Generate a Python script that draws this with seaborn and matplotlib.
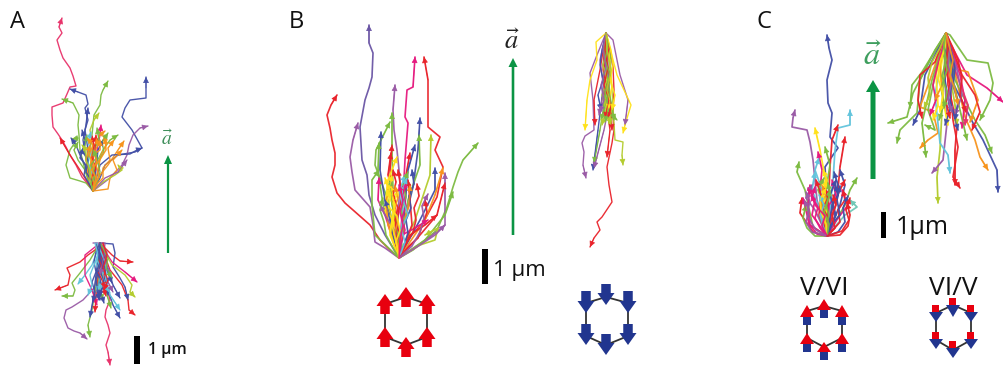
import matplotlib
matplotlib.use("Agg")
import matplotlib.pyplot as plt
import pandas as pd
import seaborn as sns
from matplotlib.patches import FancyArrow, Rectangle, Polygon

sns.set_theme(style="white")
plt.rcParams["font.family"] = ["Open Sans", "DejaVu Sans"]
plt.rcParams["mathtext.fontset"] = "stix"

PALETTE = {"r": "#E9232B", "b": "#424FA6", "g": "#7DBB42", "p": "#9A5BA6", "o": "#F7941D",
           "y": "#FFE21A", "k": "#E6197F", "c": "#62C4DC", "l": "#B4CC2E", "v": "#6A55A5", "m": "#E8336B",
           "t": "#6FC7B5"}

A_TOP_COLORS = "mbggbpgrbglbkoooglbrpogobo" + "cgbgrobolgoo"
A_TOP = [
 [(93,191),(87,183),(82,177),(76,165),(70,155),(66,147),(62,140),(58,134),(53,127),(52,115),(52,107),(63,103),(67,94),(70,87),(76,86),(73,76),(70,68),(63,58),(60,50),(57,40),(62,33),(59,27),(62,18)],
 [(93,191),(90,170),(87,160),(88,150),(85,130),(88,120),(85,108),(88,104),(86,95),(78,92),(70,89)],
 [(93,191),(88,180),(85,170),(80,150),(79,135),(78,125),(79,115),(73,103),(62,99)],
 [(93,191),(90,175),(88,160),(92,135),(94,115),(100,105),(101,95),(103,90),(108,81)],
 [(93,191),(100,178),(105,165),(118,155),(135,152),(142,148),(137,139),(132,130),(122,117),(125,108),(130,100),(146,98),(146,88),(146,77)],
 [(93,191),(110,178),(122,165),(127,155),(129,145),(133,135),(140,128),(148,126)],
 [(93,191),(86,183),(80,181),(70,178),(66,165),(70,150),(78,138),(72,139)],
 [(93,191),(85,178),(80,170),(70,155),(60,138)],
 [(93,191),(85,165),(80,155),(76,145),(71,138)],
 [(93,191),(85,170),(78,160),(74,150),(78,142)],
 [(93,191),(90,170),(93,150),(90,130),(94,120),(99,113)],
 [(93,191),(87,165),(83,140),(86,125),(88,108)],
 [(93,191),(95,170),(97,150),(100,135),(101,125)],
 [(93,191),(90,170),(92,150),(100,135),(105,131)],
 [(93,191),(100,175),(108,165),(118,150),(124,141)],
 [(93,191),(108,189),(110,178),(117,170),(113,160),(122,150)],
 [(93,191),(95,165),(103,150),(110,140),(118,135)],
 [(93,191),(103,182),(115,175),(122,170),(118,165)],
 [(93,191),(100,165),(112,155),(130,154),(137,150),(142,148)],
 [(93,191),(92,165),(95,150),(96,135)],
 [(93,191),(105,178),(118,172),(127,160)],
 [(93,191),(88,175),(86,160),(90,145)],
 [(93,191),(89,170),(84,150),(87,135)],
 [(93,191),(98,170),(101,155),(106,145),(104,135)],
 [(93,191),(96,170),(98,150),(103,140)],
 [(93,191),(91,170),(93,155),(100,150),(100,140)],
 [(93,191),(90,182),(92,172),(88,163),(91,152),(88,142),(91,132)],
 [(93,191),(95,180),(93,170),(97,160),(95,148),(99,140),(97,128)],
 [(93,191),(91,180),(86,172),(88,160),(83,152),(85,140),(82,130)],
 [(93,191),(97,182),(100,172),(98,162),(104,152),(102,142),(108,133)],
 [(93,191),(92,178),(96,168),(92,158),(94,146),(92,136)],
 [(93,191),(94,182),(90,172),(94,165),(89,155),(93,145),(87,138)],
 [(93,191),(88,182),(84,175),(86,165),(80,158),(83,148)],
 [(93,191),(98,183),(103,178),(103,168),(110,160),(108,148),(114,140)],
 [(93,191),(90,180),(90,170),(86,160),(86,150),(82,145)],
 [(93,191),(91,183),(95,175),(91,165),(96,158),(93,150)],
 [(93,191),(95,184),(99,176),(96,165),(101,158),(106,150),(105,138)],
 [(93,191),(96,178),(92,170),(97,162),(94,152),(98,145),(96,138)],
]

A_BOT_COLORS = "mpgrgckrbrklbcbgrbgbcbpcrb" + "brbcbpcgbr"
A_BOT = [
 [(103,243),(106,260),(105,275),(106,285),(110,300),(106,310),(105,317),(108,325),(110,333),(106,345),(108,352),(110,365)],
 [(100,243),(95,287),(83,300),(72,307),(66,310),(64,318),(68,328),(74,331),(80,333),(87,339)],
 [(100,243),(97,280),(92,310),(88,325),(90,337)],
 [(100,243),(95,250),(88,255),(80,262),(67,268),(70,275),(68,285),(55,290)],
 [(100,243),(90,260),(80,273),(72,283),(75,290),(73,296),(62,296)],
 [(100,243),(92,265),(85,275),(78,284)],
 [(100,243),(85,255),(85,275),(92,290),(97,305)],
 [(100,243),(112,255),(120,261),(133,262)],
 [(100,243),(113,244),(115,253),(113,267),(120,278),(125,287),(128,300)],
 [(100,243),(110,270),(122,285),(128,300),(129,310),(135,315)],
 [(100,243),(112,262),(125,272),(137,282)],
 [(100,243),(112,265),(125,275),(132,285),(130,292),(135,297)],
 [(100,243),(105,270),(108,290),(113,305),(120,318)],
 [(100,243),(103,270),(110,295),(120,310)],
 [(100,243),(108,270),(113,285),(120,298)],
 [(100,243),(102,275),(107,295),(111,308)],
 [(100,243),(99,270),(96,295),(95,312)],
 [(100,243),(96,275),(93,300),(90,317)],
 [(100,243),(102,260),(98,285),(103,300)],
 [(96,243),(100,260),(105,280),(108,295)],
 [(100,243),(97,260),(104,275),(100,290)],
 [(100,243),(105,255),(107,270),(112,283)],
 [(93,243),(105,243),(104,255),(100,275)],
 [(100,243),(96,262),(100,278),(97,292)],
 [(100,243),(104,258),(98,272),(106,288)],
 [(100,243),(101,262),(96,280),(99,300)],
 [(100,243),(98,252),(101,260),(97,270),(100,280),(97,290),(100,300)],
 [(100,243),(103,252),(100,262),(105,272),(102,284),(106,296)],
 [(100,243),(101,253),(104,263),(101,273),(104,283),(101,293),(104,303)],
 [(97,243),(101,252),(105,262),(107,272),(105,283),(110,293)],
 [(100,243),(96,252),(94,262),(96,272),(92,282),(95,292),(93,302)],
 [(100,243),(107,252),(105,262),(110,272),(108,282),(113,292)],
 [(95,243),(98,255),(94,265),(90,275),(92,285),(88,295)],
 [(100,243),(104,250),(108,258),(106,268),(112,278)],
 [(100,243),(99,256),(103,266),(99,276),(102,288),(98,296)],
 [(103,243),(107,255),(103,268),(108,280),(104,290)],
]

B_LEFT_COLORS = "rvppkrgbglggbgrryrbbopr" + "gkgloyprcyrkpgrbyo" + "rgybokrycrgpyk"
B_LEFT = [
 [(399,258),(390,250),(380,240),(370,225),(353,210),(345,203),(337,193),(332,177),(335,165),(335,153),(332,140),(330,128),(327,115),(331,105),(337,95)],
 [(399,258),(385,235),(375,215),(369,195),(367,175),(362,160),(360,127),(365,100),(369,88),(372,77),(373,53),(369,43),(369,25)],
 [(399,258),(385,248),(375,242),(373,225),(370,207),(355,190),(352,172),(350,157),(353,140),(358,123)],
 [(399,258),(398,220),(400,180),(397,150),(394,130),(393,110),(395,85)],
 [(399,258),(402,215),(405,160),(408,123),(405,117),(407,90),(413,87),(415,57)],
 [(399,258),(407,240),(423,223),(437,197),(443,167),(435,150),(440,137),(428,127),(428,100),(428,80),(424,57)],
 [(399,258),(413,250),(437,230),(447,207),(453,187),(458,172),(463,160),(478,143)],
 [(399,258),(405,220),(413,187),(418,150),(420,118)],
 [(399,258),(408,200),(420,165),(419,135)],
 [(399,258),(415,220),(430,175),(431,135)],
 [(399,258),(393,190),(392,150),(392,113)],
 [(399,258),(388,200),(375,165),(376,150),(390,122)],
 [(399,258),(385,200),(380,170),(381,132)],
 [(399,258),(383,205),(378,170),(379,143)],
 [(399,258),(392,200),(390,170),(392,145)],
 [(399,258),(395,200),(388,175),(391,153)],
 [(399,258),(385,210),(388,180),(397,157)],
 [(399,258),(405,205),(406,175),(410,153)],
 [(399,258),(405,205),(408,170),(415,145)],
 [(399,258),(420,220),(435,190),(435,168)],
 [(399,258),(425,220),(435,195),(443,168)],
 [(399,258),(430,237),(445,225),(445,205),(445,173)],
 [(399,258),(420,235),(437,215),(445,183)],
 [(399,258),(425,240),(445,215),(453,192)],
 [(399,258),(385,215),(378,200),(379,178)],
 [(399,258),(375,235),(372,205),(372,180),(379,170)],
 [(399,258),(420,245),(435,240),(438,228),(425,235)],
 [(399,258),(388,225),(386,200),(392,185)],
 [(399,258),(393,230),(394,200),(390,185)],
 [(399,258),(420,245),(435,235),(445,225)],
 [(399,258),(396,225),(402,195),(398,170)],
 [(399,258),(403,210),(400,190),(405,175)],
 [(399,258),(393,235),(395,210),(387,190)],
 [(399,258),(412,225),(410,200),(408,180)],
 [(399,258),(402,235),(415,228),(428,220)],
 [(399,258),(394,230),(385,215),(380,205)],
 [(399,258),(397,225),(392,205),(390,180)],
 [(399,258),(410,235),(425,225),(437,215)],
 [(399,258),(393,235),(390,215),(385,200)],
 [(399,258),(390,235),(395,200),(398,190)],
 [(399,258),(403,225),(409,205),(410,185)],
 [(399,258),(396,245),(399,232),(395,220),(398,208),(393,195),(396,182),(393,170)],
 [(399,258),(402,245),(399,235),(404,222),(401,210),(406,197),(403,185),(408,172)],
 [(399,258),(394,245),(390,232),(392,220),(388,208),(391,195),(387,183)],
 [(399,258),(404,245),(408,233),(406,220),(411,208),(409,196),(414,184),(412,170)],
 [(399,258),(398,244),(394,234),(398,222),(394,210),(398,198),(395,186)],
 [(399,258),(401,244),(405,230),(402,218),(406,206),(403,194),(406,182)],
 [(399,258),(406,244),(413,232),(416,220),(414,208),(419,196),(417,184)],
 [(399,258),(396,242),(400,230),(397,216),(387,205),(389,190),(385,178)],
 [(399,258),(405,242),(401,228),(408,215),(404,203),(402,190),(407,178)],
 [(399,258),(409,246),(418,238),(422,226),(427,212),(425,200)],
 [(399,258),(392,246),(386,235),(384,222),(380,210),(383,198)],
 [(399,258),(412,246),(420,232),(424,218),(422,206),(428,194)],
 [(399,258),(397,246),(392,225),(395,205),(389,190),(392,175)],
 [(399,258),(400,240),(403,225),(400,212),(403,200),(399,185)],
]

B_RIGHT_COLORS = "rpybglpypgrrgrlpyg" + "grlbyrgpl"
B_RIGHT = [
 [(606,33),(610,50),(613,67),(614,90),(613,117),(614,130),(612,143),(607,167),(609,185),(612,202),(602,217),(597,222),(600,230),(594,238),(590,247)],
 [(606,33),(597,55),(590,73),(593,100),(594,130),(585,136),(582,143),(584,152),(583,165),(586,178)],
 [(606,33),(596,42),(597,60),(590,80),(587,100),(585,130)],
 [(606,33),(604,80),(598,130),(593,170)],
 [(606,33),(608,80),(600,130),(594,163)],
 [(606,33),(612,90),(615,140),(623,142),(622,155),(623,165)],
 [(606,33),(613,40),(617,60),(620,75),(628,100),(625,125)],
 [(606,33),(617,75),(631,105),(625,125),(623,133)],
 [(606,33),(610,100),(604,130),(594,168)],
 [(606,33),(611,60),(607,110),(617,120)],
 [(606,33),(600,70),(594,100),(595,125)],
 [(606,33),(604,90),(610,130),(607,157)],
 [(606,33),(603,65),(608,95),(601,120)],
 [(606,33),(603,70),(610,100),(612,130)],
 [(606,33),(611,70),(605,100),(611,125)],
 [(606,33),(600,60),(604,90),(599,115)],
 [(606,33),(609,55),(612,85),(608,110)],
 [(606,33),(605,60),(609,90),(614,120)],
 [(606,33),(604,48),(607,62),(603,76),(606,90),(603,104),(606,118)],
 [(606,33),(609,48),(606,62),(610,76),(607,90),(611,104),(608,118)],
 [(606,33),(607,50),(603,65),(607,80),(602,95),(606,110),(602,125)],
 [(606,33),(602,50),(600,65),(603,80),(598,95),(601,110)],
 [(606,33),(611,50),(613,65),(610,80),(615,95),(612,110)],
 [(606,33),(605,50),(608,68),(604,85),(609,100),(605,118)],
 [(606,33),(608,45),(605,60),(610,75),(605,92),(609,108),(605,122)],
 [(606,33),(603,48),(606,68),(601,85),(604,100),(600,112)],
 [(606,33),(607,50),(611,70),(607,90),(612,108),(609,124)],
]

C_LEFT_COLORS = "bpcrryggkcgtrkbckyrbgpkrboky" + "rbkgrpbcrygk" + "grkbpr"
C_LEFT = [
 [(827,236),(827,200),(825,167),(833,155),(838,148),(830,137),(832,113),(828,103),(827,80),(832,60),(829,48),(827,35)],
 [(827,236),(817,200),(813,160),(810,142),(807,130),(792,127),(793,118),(795,110)],
 [(827,236),(833,180),(835,150),(838,128),(850,125),(850,110)],
 [(827,236),(830,167),(832,140),(838,125)],
 [(827,236),(837,200),(840,167),(845,137)],
 [(827,236),(825,177),(820,150),(815,128)],
 [(827,236),(813,227),(805,190),(797,172),(799,162)],
 [(827,236),(826,190),(830,165),(825,147)],
 [(827,236),(820,190),(822,170),(818,152)],
 [(827,236),(822,190),(815,170),(819,158)],
 [(827,236),(845,205),(850,190),(857,178)],
 [(827,236),(845,215),(857,207),(850,200)],
 [(827,236),(813,232),(800,213),(802,198)],
 [(827,236),(810,225),(808,205),(810,185)],
 [(827,236),(840,205),(845,185),(840,170)],
 [(827,236),(818,205),(812,190),(815,172)],
 [(827,236),(838,218),(848,205),(842,190)],
 [(827,236),(824,205),(827,180),(823,170)],
 [(827,236),(833,205),(840,190),(845,180)],
 [(827,236),(833,200),(838,185),(834,172)],
 [(827,236),(822,200),(818,190),(824,178)],
 [(827,236),(815,210),(806,198),(812,185)],
 [(827,236),(829,205),(836,195),(832,180)],
 [(827,236),(819,215),(821,195),(816,180)],
 [(827,236),(836,215),(830,195),(836,180)],
 [(827,236),(821,205),(826,195),(822,185)],
 [(827,236),(812,215),(815,200),(808,188)],
 [(827,236),(826,210),(823,195),(826,180)],
 [(827,236),(824,228),(828,218),(823,208),(828,198),(824,188)],
 [(827,236),(831,226),(835,216),(832,205),(838,195),(835,185)],
 [(827,236),(820,228),(815,218),(818,207),(812,197),(815,187)],
 [(827,236),(826,226),(829,215),(826,205),(830,195),(828,183)],
 [(827,236),(833,230),(840,222),(838,210),(845,200),(843,190)],
 [(827,236),(816,230),(811,222),(807,212),(810,202),(806,192)],
 [(827,236),(830,226),(840,215),(837,200),(840,186)],
 [(827,236),(823,226),(820,215),(824,205),(819,195)],
 [(827,236),(835,228),(832,215),(836,205),(833,195)],
 [(827,236),(826,224),(821,212),(820,200),(826,188)],
 [(827,236),(829,224),(824,212),(828,200),(830,190)],
 [(827,236),(822,226),(825,216),(816,206),(811,195)],
 [(827,236),(815,236),(807,228),(803,218),(806,205)],
 [(827,236),(840,235),(848,226),(850,215),(847,203)],
 [(827,236),(817,234),(809,224),(806,210),(803,198)],
 [(827,236),(838,232),(845,222),(843,208),(848,196)],
 [(827,236),(812,232),(806,222),(809,210),(804,200)],
 [(827,236),(842,231),(849,220),(846,210),(850,198)],
]

C_RIGHT_COLORS = "ggbgogglpcrrobgkgorykbyrlmgbpo" + "krgbyrlpgo"
C_RIGHT = [
 [(946,33),(935,50),(925,70),(913,93),(907,117),(888,123)],
 [(946,33),(930,60),(920,80),(917,113),(900,130),(897,143)],
 [(946,33),(925,75),(920,110),(913,125)],
 [(946,33),(922,72),(912,85),(910,108)],
 [(946,33),(930,80),(920,107),(933,112),(938,133),(928,140),(920,148)],
 [(946,33),(932,80),(922,123),(926,157)],
 [(946,33),(935,75),(928,110),(935,130),(925,125)],
 [(946,33),(943,90),(940,150),(937,177),(938,203)],
 [(946,33),(945,80),(947,123),(943,160),(932,173)],
 [(946,33),(935,95),(940,143),(948,155),(950,173)],
 [(946,33),(950,85),(953,120),(958,147),(953,177),(960,188)],
 [(946,33),(948,85),(957,125),(955,150),(955,185)],
 [(946,33),(965,117),(975,140),(980,157),(988,170)],
 [(946,33),(953,83),(973,123),(983,140),(997,170),(998,192)],
 [(946,33),(955,80),(975,120),(985,135),(992,153)],
 [(946,33),(950,43),(967,75),(987,88),(1003,102)],
 [(946,33),(950,35),(967,60),(988,63),(993,83),(990,100),(980,120)],
 [(946,33),(960,70),(968,72),(978,100),(970,122)],
 [(946,33),(962,75),(975,95),(980,112),(972,130)],
 [(946,33),(940,75),(945,110),(948,125)],
 [(946,33),(960,75),(965,100),(962,128)],
 [(946,33),(945,80),(950,110),(945,125)],
 [(946,33),(936,75),(938,105),(933,120)],
 [(946,33),(935,62),(920,75),(918,100),(922,118)],
 [(946,33),(950,75),(955,105),(957,125)],
 [(946,33),(955,70),(968,105),(965,125)],
 [(946,33),(952,75),(960,110),(967,140)],
 [(946,33),(953,70),(950,100),(958,130)],
 [(946,33),(957,70),(962,95),(955,115)],
 [(946,33),(940,65),(942,85),(935,100)],
 [(946,33),(942,50),(937,68),(933,85),(936,100),(930,115)],
 [(946,33),(948,50),(945,68),(950,85),(946,102),(950,118)],
 [(946,33),(943,52),(947,70),(941,88),(944,104),(939,120)],
 [(946,33),(951,50),(955,68),(953,85),(958,102),(955,120)],
 [(946,33),(945,48),(940,62),(938,78),(943,95),(940,112)],
 [(946,33),(953,48),(958,60),(962,78),(960,95),(966,112)],
 [(946,33),(940,48),(932,62),(928,78),(930,95),(924,108)],
 [(946,33),(950,48),(948,65),(952,80),(948,98),(952,112)],
 [(946,33),(944,46),(946,60),(942,76),(947,92),(944,108)],
 [(946,33),(949,45),(953,60),(950,75),(955,90),(958,105)],
]

CLUSTERS = [(A_TOP, A_TOP_COLORS, 1.0), (A_BOT, A_BOT_COLORS, 1.0), (B_LEFT, B_LEFT_COLORS, 1.2),
            (B_RIGHT, B_RIGHT_COLORS, 1.0), (C_LEFT, C_LEFT_COLORS, 1.25), (C_RIGHT, C_RIGHT_COLORS, 1.25)]

fig = plt.figure(figsize=(10.04, 3.67), dpi=100, facecolor="white")
ax = fig.add_axes([0, 0, 1, 1])

for tracks, colors, width in CLUSTERS:
    rows = [(f"t{i}", x, y) for i, tr in enumerate(tracks) for x, y in tr]
    df = pd.DataFrame(rows, columns=["track", "x", "y"])
    pal = {f"t{i}": PALETTE[colors[i % len(colors)]] for i in range(len(tracks))}
    sns.lineplot(data=df, x="x", y="y", hue="track", units="track", estimator=None, sort=False,
                 palette=pal, legend=False, linewidth=width, ax=ax, alpha=0.95)
    for i, tr in enumerate(tracks):
        ax.annotate("", xy=tr[-1], xytext=tr[-2],
                    arrowprops=dict(arrowstyle="-|>,head_length=0.5,head_width=0.25", mutation_scale=7,
                                    color=pal[f"t{i}"], lw=0.5, shrinkA=0, shrinkB=0))

ax.set_xlim(0, 1004)
ax.set_ylim(367, 0)
ax.axis("off")

GREEN = "#0B9444"
def big_arrow(x, y0, y1, w, hw, hl, c):
    ax.add_patch(FancyArrow(x, y0, 0, y1 - y0, width=w, head_width=hw, head_length=hl,
                            length_includes_head=True, color=c, lw=0))

big_arrow(168, 253, 155, 2.2, 8, 9, GREEN)
big_arrow(513, 235, 58, 2.6, 9, 9, GREEN)
big_arrow(873, 179, 80, 5, 14, 12, GREEN)

for x, y0, y1, w in [(137, 336, 364, 5.5), (485, 249, 284, 6), (884, 212, 238, 5)]:
    ax.add_patch(Rectangle((x - w / 2, y0), w, y1 - y0, color="black", lw=0))

for s, x in [("A", 10), ("B", 289), ("C", 757)]:
    ax.text(x, 28, s, fontsize=17, color="#111111", va="baseline", ha="left")

ax.text(148, 354, "1 µm", fontsize=11.5, color="#111111", va="baseline", ha="left", fontweight="semibold")
ax.text(493, 276, "1 µm", fontsize=16, color="#111111", va="baseline", ha="left")
ax.text(896, 234, "1µm", fontsize=18, color="#111111", va="baseline", ha="left")
ax.text(167, 145, r"$\vec{a}$", fontsize=14, color="#3E8E5A", ha="center", va="baseline")
ax.text(512, 49, r"$\vec{a}$", fontsize=19, color="#222222", ha="center", va="baseline")
ax.text(872, 65, r"$\vec{a}$", fontsize=23, color="#3E9E5E", ha="center", va="baseline")
ax.text(824, 295, "V/VI", fontsize=19, color="#111111", ha="center", va="baseline")
ax.text(953, 295, "VI/V", fontsize=19, color="#111111", ha="center", va="baseline")

RED, NAVY = "#E8000F", "#21358F"

def hexagon(xl, xm, xr, yt, yu, yl, yb):
    pts = [(xm, yt), (xr, yu), (xr, yl), (xm, yb), (xl, yl), (xl, yu)]
    ax.add_patch(Polygon(pts, closed=True, fill=False, ec="#333333", lw=1.3, zorder=3))

hexagon(385, 406, 427, 297, 304, 337, 345)
for x, y0, y1 in [(385, 314, 294), (427, 314, 294), (406, 307, 287), (385, 347, 327), (427, 347, 327), (406, 357, 337)]:
    ax.add_patch(FancyArrow(x, y0, 0, y1 - y0, width=9.5, head_width=17, head_length=12,
                            length_includes_head=True, color=RED, lw=0, zorder=4))

hexagon(586, 606, 628, 297, 303, 336, 345)
for x, y0, y1 in [(586, 291, 313), (628, 291, 313), (606, 284, 305), (586, 324, 345), (628, 324, 345), (606, 334, 355)]:
    ax.add_patch(FancyArrow(x, y0, 0, y1 - y0, width=9.5, head_width=17, head_length=12,
                            length_includes_head=True, color=NAVY, lw=0, zorder=4))

hexagon(807, 824, 842, 306, 311, 338, 347)
for x, tip, base in [(807, 305, 317), (842, 305, 317), (824, 299, 310), (807, 333, 344), (842, 333, 344), (824, 342, 352)]:
    ax.add_patch(Rectangle((x - 4, base), 8, 7.5, color=NAVY, lw=0, zorder=4))
    ax.add_patch(Polygon([(x, tip), (x - 7, base), (x + 7, base)], closed=True, color=RED, lw=0, zorder=5))

hexagon(936, 953, 971, 305, 313, 340, 350)
for x, top, mid, tip in [(936, 305, 312, 322), (971, 305, 312, 322), (953, 298, 305, 317), (936, 332, 339, 349), (971, 332, 339, 349), (953, 341, 348, 358)]:
    ax.add_patch(Polygon([(x, tip), (x - 7, mid), (x + 7, mid)], closed=True, color=NAVY, lw=0, zorder=4))
    ax.add_patch(Rectangle((x - 3.5, top), 7, mid - top, color=RED, lw=0, zorder=5))

fig.savefig("out.png", dpi=100)
